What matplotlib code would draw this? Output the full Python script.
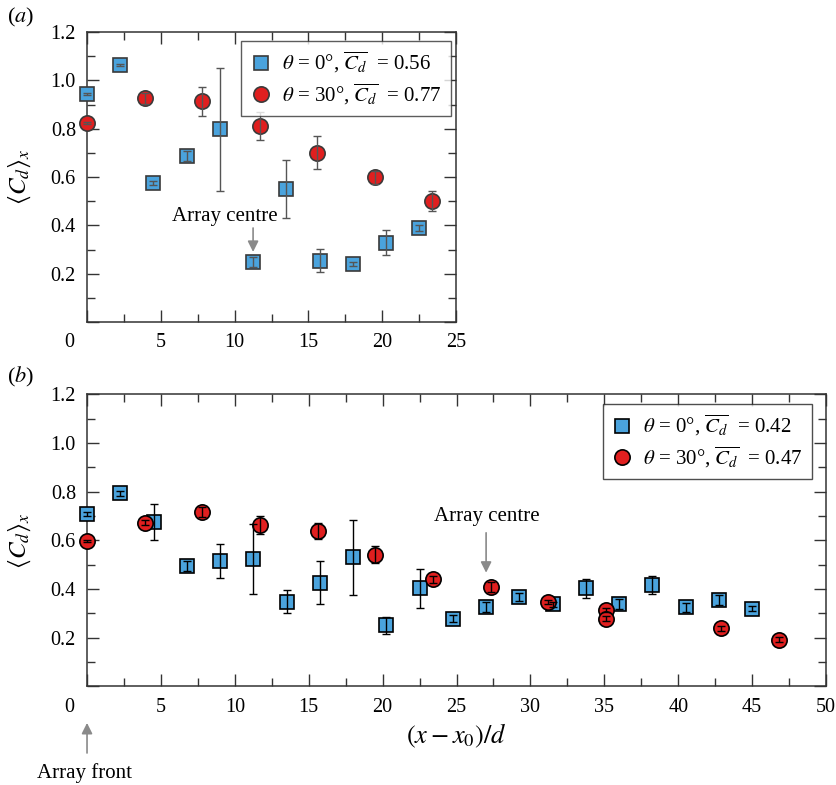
import matplotlib
matplotlib.use('Agg')
import matplotlib.pyplot as plt
from matplotlib.ticker import MultipleLocator

plt.rcParams['font.family'] = ['Liberation Serif', 'DejaVu Serif']
plt.rcParams['mathtext.fontset'] = 'stix'
plt.rcParams['font.size'] = 14

# panel (a) data
a_sq_x = [0.0, 2.25, 4.5, 6.75, 9.0, 11.25, 13.5, 15.75, 18.0, 20.25, 22.5]
a_sq_y = [0.945, 1.063, 0.576, 0.687, 0.797, 0.248, 0.549, 0.254, 0.240, 0.328, 0.388]
a_sq_e = [0.004, 0.004, 0.008, 0.022, 0.255, 0.02, 0.12, 0.048, 0.01, 0.052, 0.012]
a_ci_x = [0.0, 3.9, 7.8, 11.7, 15.6, 19.5, 23.4]
a_ci_y = [0.825, 0.925, 0.914, 0.811, 0.700, 0.599, 0.502]
a_ci_e = [0.004, 0.022, 0.06, 0.058, 0.068, 0.027, 0.042]

# panel (b) data
b_sq_x = [0.0, 2.25, 4.5, 6.75, 9.0, 11.25, 13.5, 15.75, 18.0, 20.25, 22.5,
          24.75, 27.0, 29.25, 31.5, 33.75, 36.0, 38.25, 40.5, 42.75, 45.0]
b_sq_y = [0.708, 0.793, 0.677, 0.495, 0.516, 0.525, 0.348, 0.426, 0.530, 0.251, 0.403,
          0.278, 0.327, 0.367, 0.338, 0.403, 0.340, 0.418, 0.325, 0.354, 0.319]
b_sq_e = [0.008, 0.01, 0.074, 0.02, 0.07, 0.144, 0.046, 0.088, 0.155, 0.034, 0.08,
          0.015, 0.02, 0.015, 0.01, 0.038, 0.02, 0.037, 0.018, 0.02, 0.01]
b_ci_x = [0.0, 3.9, 7.8, 11.7, 15.6, 19.5, 23.4, 27.3, 31.2, 35.1, 35.1, 42.9, 46.8]
b_ci_y = [0.599, 0.673, 0.716, 0.663, 0.638, 0.540, 0.440, 0.407, 0.347, 0.314, 0.278, 0.239, 0.191]
b_ci_e = [0.004, 0.01, 0.02, 0.037, 0.034, 0.035, 0.015, 0.02, 0.01, 0.01, 0.01, 0.01, 0.01]

blue = '#4aa3dd'
red = '#e01f1f'

fig = plt.figure(figsize=(8.36, 7.85), dpi=100)
ax1 = fig.add_axes([0.1041, 0.5898, 0.4414, 0.3694])
ax2 = fig.add_axes([0.1041, 0.1256, 0.8840, 0.3721])


def draw(ax, sx, sy, se, cx, cy, ce, labs, ecol, edge):
    ax.plot(sx, sy, 's', ms=9.5, mfc=blue, mec=edge, mew=1.2, zorder=3,
            label=labs[0], clip_on=False)
    ax.plot(cx, cy, 'o', ms=11, mfc=red, mec=edge, mew=1.2, zorder=3,
            label=labs[1], clip_on=False)
    for x, y, e in [(sx, sy, se), (cx, cy, ce)]:
        eb = ax.errorbar(x, y, yerr=e, fmt='none', ecolor=ecol, elinewidth=1.0,
                         capsize=3, capthick=1.0, zorder=4)
        for art in eb.lines[1] + eb.lines[2]:
            art.set_clip_on(False)


def style(ax, xmax, spine):
    ax.set_xlim(0, xmax)
    ax.set_ylim(0, 1.2)
    ax.xaxis.set_major_locator(MultipleLocator(5))
    ax.xaxis.set_minor_locator(MultipleLocator(2.5))
    ax.yaxis.set_major_locator(MultipleLocator(0.2))
    ax.yaxis.set_minor_locator(MultipleLocator(0.1))
    ax.tick_params(which='both', direction='in', top=True, right=True,
                   color=spine, width=1.0, labelsize=14.5)
    ax.tick_params(which='major', length=8.5, pad=8)
    ax.tick_params(which='minor', length=6)
    for s in ax.spines.values():
        s.set_color(spine)
        s.set_linewidth(1.1)
    ticks = list(range(0, xmax + 1, 5))
    ax.set_xticks(ticks)
    ax.set_xticklabels([''] + [str(t) for t in ticks[1:]])
    ax.set_yticks([0, 0.2, 0.4, 0.6, 0.8, 1.0, 1.2])
    ax.set_yticklabels(['', '0.2', '0.4', '0.6', '0.8', '1.0', '1.2'])
    ax.annotate('0', xy=(0, 0), xycoords=('data', 'axes fraction'),
                xytext=(-13, -8), textcoords='offset points',
                ha='center', va='top', fontsize=14.5, annotation_clip=False)
    ax.set_ylabel(r'$\langle C_d \rangle_x$', fontsize=18)


arrow = dict(arrowstyle='-|>', color='#8a8a8a', lw=1.2, mutation_scale=16,
             shrinkA=0, shrinkB=0)
legkw = dict(loc='upper right', borderaxespad=0, fancybox=False, handlelength=1.0,
             handletextpad=0.5, labelspacing=0.3, borderpad=0.45, fontsize=15)

# (a)
draw(ax1, a_sq_x, a_sq_y, a_sq_e, a_ci_x, a_ci_y, a_ci_e,
     [r'$\theta$ = 0°, $\overline{C_d}$  = 0.56',
      r'$\theta$ = 30°, $\overline{C_d}$  = 0.77'], '#555555', '#3a3a3a')
style(ax1, 25, '#333333')
ax1.yaxis.set_label_coords(-0.146, 0.5)
leg1 = ax1.legend(bbox_to_anchor=(0.986, 0.969), edgecolor='#333333', **legkw)
leg1.get_frame().set_linewidth(1.0)
ax1.annotate('Array centre', xy=(9.32, 0.436), ha='center', va='center', fontsize=15)
ax1.annotate('', xy=(11.25, 0.29), xytext=(11.25, 0.389), arrowprops=arrow)
fig.text(0.008, 1 - 17 / 785, r'($a$)', va='center', ha='left', fontsize=16)

# (b)
draw(ax2, b_sq_x, b_sq_y, b_sq_e, b_ci_x, b_ci_y, b_ci_e,
     [r'$\theta$ = 0°, $\overline{C_d}$  = 0.42',
      r'$\theta$ = 30°, $\overline{C_d}$  = 0.47'], 'black', 'black')
style(ax2, 50, '#333333')
ax2.yaxis.set_label_coords(-0.073, 0.5)
ax2.set_xlabel(r'$(x - x_0)/d$', fontsize=19)
ax2.xaxis.set_label_coords(0.5, -0.12)
leg2 = ax2.legend(bbox_to_anchor=(0.981, 0.967), edgecolor='#222222', **legkw)
leg2.get_frame().set_linewidth(1.0)
ax2.annotate('Array centre', xy=(27.02, 0.697), ha='center', va='center', fontsize=15)
ax2.annotate('', xy=(27.0, 0.467), xytext=(27.0, 0.631), arrowprops=arrow)
ax2.annotate('', xy=(0, -0.125), xytext=(0, -0.228),
             xycoords=('data', 'axes fraction'), arrowprops=arrow, annotation_clip=False)
ax2.annotate('Array front', xy=(-0.15, -0.296), xycoords=('data', 'axes fraction'),
             ha='center', va='center', fontsize=15, annotation_clip=False)
fig.text(0.008, 1 - 377 / 785, r'($b$)', va='center', ha='left', fontsize=16)

fig.savefig('out.png', dpi=100)
